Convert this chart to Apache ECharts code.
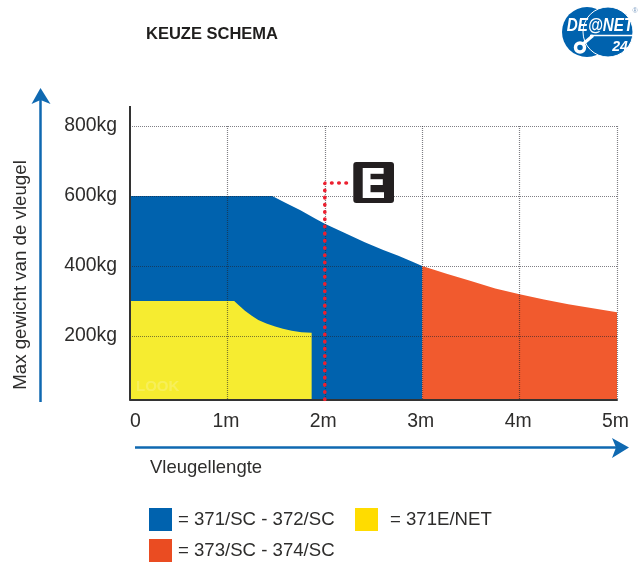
<!DOCTYPE html>
<html><head><meta charset="utf-8">
<style>html,body{margin:0;padding:0;background:#fff}#c{width:644px;height:563px}</style>
<script src="https://cdn.jsdelivr.net/npm/echarts@6/dist/echarts.min.js"></script>
</head><body><div id="c"></div>
<script>
const chartTitle = 'KEUZE SCHEMA';
const yTitle = 'Max gewicht van de vleugel';
const xTitle = 'Vleugellengte';
const blueName = '= 371/SC - 372/SC';
const yellowName = '= 371E/NET';
const redName = '= 373/SC - 374/SC';
const blueCurve = [[0,600],[1.46,600],[1.6,580],[1.75,559],[1.9,536],[2,521],[2.2,495],[2.41,468],[2.6,446],[2.755,429],[2.9,412],[3,400]];
const redCurve = [[3,400],[3.25,378],[3.5,357],[3.75,336],[4,319],[4.25,304],[4.5,291],[4.75,279],[5,268]];
const yellowCurve = [[0,300],[1.07,300],[1.1,292],[1.14,282],[1.18,272],[1.25,258],[1.317,246],[1.4,236],[1.49,227],[1.57,221],[1.66,215],[1.76,211],[1.865,209]];
const yMin = 18.6, yMax = 800, xMax = 5;
const eLine = [[2,yMin],[2,637],[2.24,637]];
const FONT = '"Liberation Sans", Arial, sans-serif';
const TXT = '#2e2d2c';
const BLUE = '#0062ae', ARROW = '#0f69b1';
const GRIDLINE = {color:'rgba(35,35,45,.58)', width:1.2, type:[1,1]};

function area(name, data, color){
  return {type:'line', name, data, symbol:'none', silent:true, z:2,
    lineStyle:{width:0}, areaStyle:{color, opacity:1, origin:'start'}};
}
function legendItem(x, y, color, text, tx){
  return [
    {type:'rect', shape:{x, y, width:23, height:23}, style:{fill:color}},
    {type:'text', style:{x:tx, y:y+11.5, text, font:'18.6px '+FONT, fill:TXT, verticalAlign:'middle'}}
  ];
}
function arrow(points, head){
  return [
    {type:'polyline', shape:{points}, style:{stroke:ARROW, lineWidth:2.5, fill:null}},
    {type:'polygon', shape:{points:head}, style:{fill:ARROW}}
  ];
}
const logo = [
  {type:'circle', shape:{cx:587,cy:32,r:25}, style:{fill:BLUE}},
  {type:'circle', shape:{cx:608,cy:32,r:25}, style:{fill:BLUE, stroke:'#fff', lineWidth:1}},
  {type:'line', shape:{x1:583,y1:44,x2:593,y2:35.5}, style:{stroke:'#fff', lineWidth:3}},
  {type:'line', shape:{x1:590,y1:35.5,x2:638,y2:35.5}, style:{stroke:'#fff', lineWidth:1.5}},
  {type:'circle', shape:{cx:580,cy:47.5,r:4.5}, style:{fill:BLUE, stroke:'#fff', lineWidth:3.5}},
  {type:'text', x:600, y:25.5, scaleX:0.8, style:{text:'DE@NET',font:'italic bold 19px '+FONT,fill:'#fff',align:'center',verticalAlign:'middle'}},
  {type:'text', style:{x:620,y:47.5,text:'24',font:'italic bold 14px '+FONT,fill:'#fff',align:'center',verticalAlign:'middle'}},
  {type:'text', style:{x:635,y:11,text:'®',font:'7px '+FONT,fill:'#7f9fc4',align:'center',verticalAlign:'middle'}}
];
const chart = echarts.init(document.getElementById('c'), null, {renderer:'canvas'});
chart.setOption({
  animation:false,
  backgroundColor:'#fff',
  title:{text:chartTitle, left:141, top:21, textStyle:{fontFamily:FONT, fontSize:16.5, fontWeight:'bold', color:'#1f1e1d'}},
  grid:{left:130, right:27, top:126, bottom:163.5, containLabel:false},
  xAxis:{type:'value', min:0, max:xMax, interval:1, z:5,
    axisLine:{show:true, onZero:false, lineStyle:{color:'#333', width:2}},
    axisTick:{show:false},
    axisLabel:{fontFamily:FONT, fontSize:19.4, color:TXT, margin:13, alignMinLabel:'left', padding:[0,3,0,0],
      formatter:v=>v===0?'0':v+'m'},
    splitLine:{show:true, showMinLine:false, lineStyle:GRIDLINE}},
  yAxis:{type:'value', min:yMin, max:yMax, splitNumber:4, z:5,
    axisLine:{show:true, onZero:false, lineStyle:{color:'#333', width:2}},
    axisTick:{show:false},
    axisLabel:{fontFamily:FONT, fontSize:19.4, color:TXT, margin:13, showMinLabel:false,
      formatter:v=>(v%200===0)?v+'kg':''},
    splitLine:{show:true, showMinLine:false, lineStyle:GRIDLINE}},
  series:[
    area(blueName, blueCurve, '#0062ae'),
    area(redName, redCurve, '#f15a2e'),
    Object.assign(area(yellowName, yellowCurve, '#f6ec30'),{z:3}),
    {type:'line', name:'E', data:eLine, symbol:'none', silent:true, z:6,
      lineStyle:{color:'#ec2030', width:3.6, cap:'round', type:[0.5,6.7]}}
  ],
  graphic:{elements:[
    {type:'line', shape:{x1:130,y1:106,x2:130,y2:127}, style:{stroke:'#333',lineWidth:2}},
    {type:'text', style:{x:136,y:386.5,text:'LOOK',font:'bold 15px '+FONT,fill:'rgba(255,255,255,.2)',verticalAlign:'middle'}, z:10},
    {type:'text', rotation:Math.PI/2, x:20.5, y:275, style:{text:yTitle,font:'18.7px '+FONT,fill:TXT,align:'center',verticalAlign:'middle'}},
    {type:'text', style:{x:150,y:468,text:xTitle,font:'18.5px '+FONT,fill:TXT,verticalAlign:'middle'}},
    ...arrow([[40.5,402],[40.5,98]], [[40.5,88],[50.5,104],[40.5,100],[31.5,104]]),
    ...arrow([[135,447.5],[618,447.5]], [[629,447.5],[612,438],[616,447.5],[612,458]]),
    {type:'rect', shape:{x:353.3,y:162,width:40.7,height:41,r:3}, style:{fill:'#231f20'}, z:20},
    {type:'text', style:{x:373,y:187.5,text:'E',font:'bold 41px "DejaVu Sans"',fill:'#fff',align:'center',verticalAlign:'middle'}, z:21},
    ...legendItem(149,508,'#0062ae',blueName,178),
    ...legendItem(355,508,'#ffdc00',yellowName,390),
    ...legendItem(149,539,'#ea4c22',redName,178),
    ...logo
  ]}
});
</script></body></html>
